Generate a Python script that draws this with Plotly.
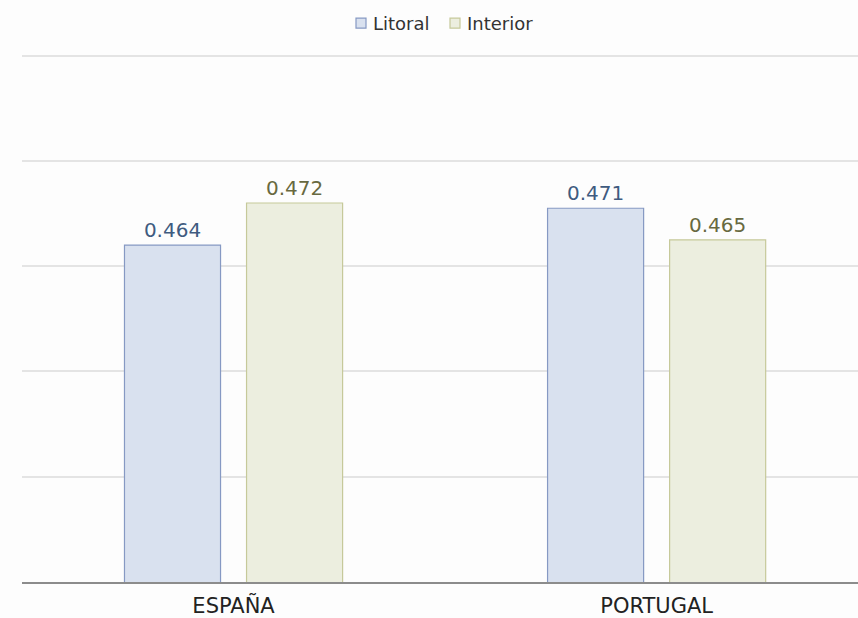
import plotly.graph_objects as go

# Coeficiente por región, litoral frente a interior
paises = ["ESPAÑA", "PORTUGAL"]
series = ["Litoral", "Interior"]
litoral = [0.464, 0.471]
interior = [0.472, 0.465]

FONT = "DejaVu Sans, Verdana, sans-serif"
FILL = {"Litoral": "#d9e1ef", "Interior": "#eceedf"}
EDGE = {"Litoral": "#8699c3", "Interior": "#c6c99a"}
LABEL = {"Litoral": "#3f5b80", "Interior": "#686940"}

W, H = 858, 618
ML, MR, MT, MB = 22, 0, 54, 33
plot_w = W - ML - MR
plot_h = H - MT - MB


def px_x(px):
    return (px - ML) / plot_w


def px_y(py):
    return (H - MB - py) / plot_h


fig = go.Figure()
for name, vals in zip(series, [litoral, interior]):
    fig.add_trace(go.Bar(
        name=name, x=paises, y=vals,
        marker=dict(color=FILL[name], line=dict(color=EDGE[name], width=1.2)),
        text=[f"{v:.3f}" for v in vals], textposition="outside",
        textfont=dict(size=20, color=LABEL[name], family=FONT),
        cliponaxis=False, showlegend=False,
    ))

# Leyenda compacta: cuadro pequeño pegado al texto
legend_items = [("Litoral", 356, 371), ("Interior", 450, 465)]
for name, box_x, text_x in legend_items:
    fig.add_shape(
        type="rect", xref="paper", yref="paper",
        x0=px_x(box_x), x1=px_x(box_x + 10),
        y0=px_y(28), y1=px_y(18),
        fillcolor=FILL[name], line=dict(color=EDGE[name], width=1.2),
    )
    fig.add_annotation(
        xref="paper", yref="paper", x=px_x(text_x), y=px_y(23),
        xanchor="left", yanchor="middle", showarrow=False,
        text=name, font=dict(size=18, color="#333333", family=FONT),
    )

fig.update_layout(
    width=W, height=H,
    margin=dict(l=ML, r=MR, t=MT, b=MB),
    paper_bgcolor="#fdfdfd", plot_bgcolor="#fdfdfd",
    barmode="group", bargap=0.423, bargroupgap=0.213,
    font=dict(family=FONT, color="#333333", size=16),
    showlegend=False,
    xaxis=dict(
        range=[-0.5, 1.476], showgrid=False, ticks="",
        showline=True, linecolor="#8c8c8c", linewidth=2,
        tickfont=dict(size=21, color="#222222", family=FONT),
        ticklabelstandoff=4,
    ),
    yaxis=dict(
        range=[0.40, 0.5003], dtick=0.02, showticklabels=False,
        showgrid=True, gridcolor="#e4e4e4", gridwidth=1.5,
        zeroline=False, showline=False, ticks="",
    ),
)

fig.write_html("out.html")
